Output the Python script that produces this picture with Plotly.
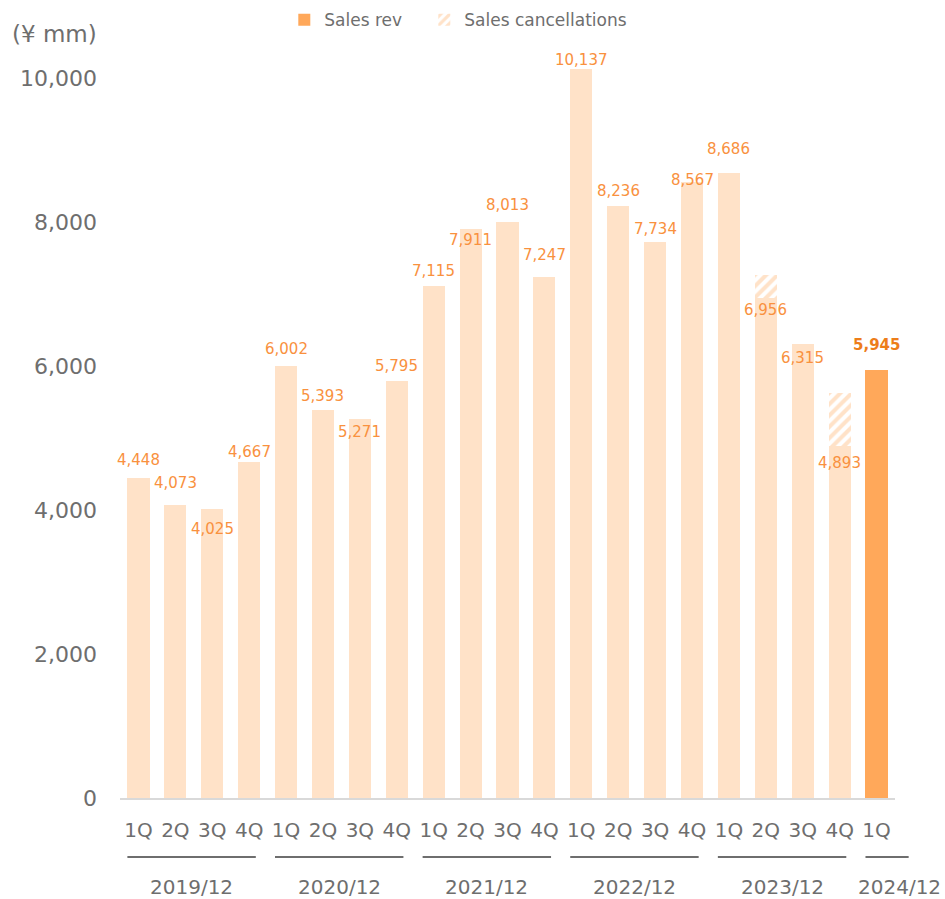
import plotly.graph_objects as go

quarters = ["1Q", "2Q", "3Q", "4Q"] * 5 + ["1Q"]
years = ["2019/12", "2020/12", "2021/12", "2022/12", "2023/12", "2024/12"]
year_counts = [4, 4, 4, 4, 4, 1]
sales = [4448, 4073, 4025, 4667, 6002, 5393, 5271, 5795, 7115, 7911, 8013, 7247,
         10137, 8236, 7734, 8567, 8686, 6956, 6315, 4893, 5945]
cancellations = [0] * 17 + [320, 0, 745, 0]
# label vertical offset in px (negative = above bar top)
label_dy = [-18, -22, 20, -10, -17, -14, 13, -15, -15, 11, -17, -22,
            -9, -15, -13, -2, -24, 12, 14, 17, -25]

LIGHT = "#FFE2C8"
ORANGE = "#FFA85A"
LABEL = "#F9913E"
LABEL_BOLD = "#ED7D1A"
GRAY = "#6E6E6E"
FONT = "DejaVu Sans"

n = len(sales)
x = list(range(n))
last = n - 1

past_vals = [v if i != last else None for i, v in enumerate(sales)]
cur_vals = [v if i == last else None for i, v in enumerate(sales)]
canc_vals = [c if c > 0 else None for c in cancellations]

fig = go.Figure()
fig.add_trace(go.Bar(x=x, y=past_vals, marker=dict(color=LIGHT, line=dict(width=0)),
                     width=0.6, showlegend=False, hoverinfo="skip"))
fig.add_trace(go.Bar(x=x, y=cur_vals, name="Sales rev",
                     marker=dict(color=ORANGE, line=dict(width=0)), width=0.6))
fig.add_trace(go.Bar(x=x, y=canc_vals, name="Sales cancellations", width=0.6,
                     marker=dict(color="white", line=dict(width=0),
                                 pattern=dict(shape="/", fgcolor=LIGHT, bgcolor="white",
                                              size=8, solidity=0.5, fillmode="replace"))))
# invisible legend spacer so the last legend text is not clipped
fig.add_trace(go.Scatter(x=[None], y=[None], mode="lines", name=" ",
                         line=dict(color="rgba(0,0,0,0)", width=0), hoverinfo="skip"))

annotations = []
for i, v in enumerate(sales):
    is_last = i == last
    annotations.append(dict(
        x=i, y=v, xref="x", yref="y", text=(f"<b>{v:,}</b>" if is_last else f"{v:,}"),
        showarrow=False, yanchor="middle", yshift=-label_dy[i],
        font=dict(family=FONT, size=15, color=LABEL_BOLD if is_last else LABEL)))

shapes = []
start = 0
for k, (yr, cnt) in enumerate(zip(years, year_counts)):
    end = start + cnt - 1
    x0 = (start - 0.3 + 0.5) / n
    x1 = (end + (0.87 if cnt == 1 else 0.18) + 0.5) / n
    shapes.append(dict(type="line", xref="paper", yref="paper", x0=x0, x1=x1,
                       y0=-0.079, y1=-0.079, line=dict(color=GRAY, width=2)))
    if cnt == 1:
        annotations.append(dict(x=1.062, xref="paper", y=-0.119, yref="paper", text=yr,
                                showarrow=False, xanchor="right", yanchor="middle",
                                font=dict(family=FONT, size=20, color=GRAY)))
    else:
        annotations.append(dict(x=(x0 + x1) / 2, xref="paper", y=-0.119, yref="paper", text=yr,
                                showarrow=False, xanchor="center", yanchor="middle",
                                font=dict(family=FONT, size=20, color=GRAY)))
    start += cnt

annotations.append(dict(x=-0.142, xref="paper", y=1.022, yref="paper", text="(¥ mm)",
                        showarrow=False, xanchor="left", yanchor="middle",
                        font=dict(family=FONT, size=23, color=GRAY)))

fig.update_layout(
    width=945, height=899,
    margin=dict(l=120, r=50, t=50, b=101, autoexpand=False),
    barmode="stack", bargap=0.4,
    plot_bgcolor="white", paper_bgcolor="white",
    font=dict(family=FONT, color=GRAY),
    legend=dict(orientation="h", x=0.212, xanchor="left", y=1.04, yanchor="middle",
                font=dict(family=FONT, size=17, color=GRAY), itemsizing="constant",
                traceorder="normal", itemwidth=30, entrywidth=95),
    annotations=annotations, shapes=shapes,
    xaxis=dict(tickmode="array", tickvals=x, ticktext=quarters, range=[-0.5, n - 0.5],
               showgrid=False, zeroline=False, showline=True, linecolor="#D9D9D9", linewidth=2,
               ticks="", ticklabelstandoff=13, tickfont=dict(family=FONT, size=20, color=GRAY)),
    yaxis=dict(range=[0, 10400], tickvals=[0, 2000, 4000, 6000, 8000, 10000], tickformat=",",
               showgrid=False, zeroline=False, showline=False, ticks="",
               ticklabelstandoff=22, tickfont=dict(family=FONT, size=22, color=GRAY)),
)

fig.write_html("out.html")
